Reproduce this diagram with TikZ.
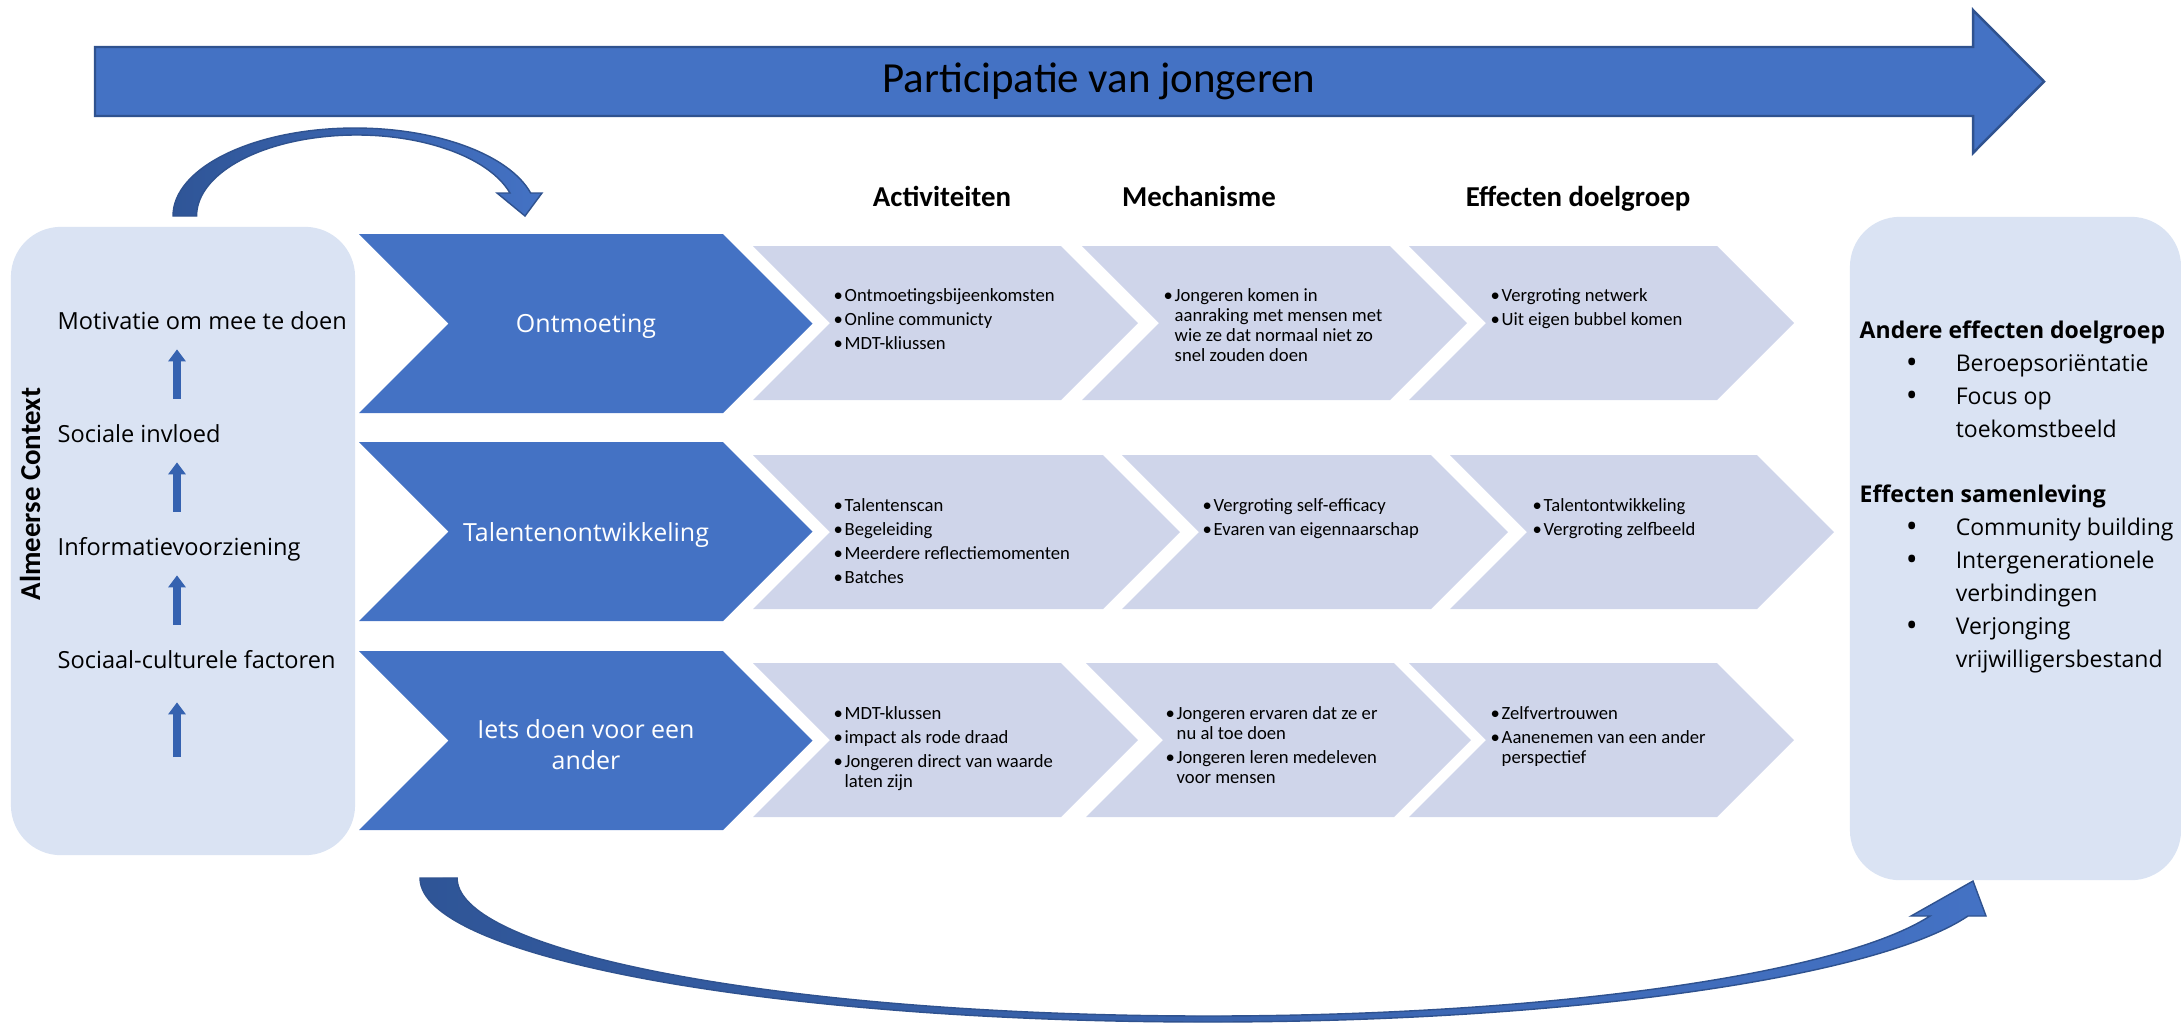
\documentclass[tikz,border=0pt]{standalone}
\usepackage{fontspec}
\setmainfont{Carlito}
\newfontfamily\osans{Open Sans}
\usetikzlibrary{arrows.meta}

\definecolor{accent}{HTML}{4472C4}
\definecolor{accentdk}{HTML}{2F528F}
\definecolor{arrowdk}{HTML}{2F5597}
\definecolor{upblue}{HTML}{3562B0}
\definecolor{chevlight}{HTML}{CFD5EA}
\definecolor{boxlight}{HTML}{DAE3F3}

\newcommand{\bitem}{\makebox[0.11cm][l]{\textbullet}}
\newcommand{\bcont}{\hspace*{0.11cm}}
\newcommand{\ritem}{\hspace*{0.46cm}\makebox[0.50cm][l]{\raisebox{-0.7pt}{\fontsize{9pt}{9pt}\selectfont\textbullet}}}
\newcommand{\rcont}{\hspace*{0.96cm}}

\tikzset{
  titlearrow/.style={fill=accent, draw=accentdk, line width=0.7pt},
  titletext/.style={font=\fontsize{12.2pt}{14pt}\selectfont, inner sep=0},
  ctxbox/.style={fill=boxlight, rounded corners=0.5cm, inner sep=0},
  bendarrow/.style={left color=arrowdk, right color=accent, draw=accentdk, line width=0.4pt},
  bigchev/.style={fill=accent},
  smallchev/.style={fill=chevlight},
  steptext/.style={font=\osans\fontsize{7.1pt}{8.8pt}\selectfont, text=white, align=center, inner sep=0},
  colhead/.style={font=\bfseries\fontsize{8.2pt}{10pt}\selectfont, inner sep=0},
  dtext/.style={font=\fontsize{5.3pt}{5.7pt}\selectfont, align=left, anchor=north west, inner sep=0},
  ctxtext/.style={font=\osans\fontsize{6.7pt}{8pt}\selectfont, anchor=base west, inner sep=0, text height=5.1pt, text depth=1.6pt},
  ctxlabel/.style={font=\bfseries\fontsize{8.2pt}{10pt}\selectfont, rotate=90, inner sep=0},
  rtext/.style={font=\osans\fontsize{6.55pt}{9.39pt}\selectfont, align=left, anchor=north west, inner sep=0},
  uparrow/.style={draw=upblue, line width=0.07cm, -{Triangle[width=0.17cm,length=0.12cm]}, shorten <=0.247cm, shorten >=0.14cm}
}

\begin{document}
\begin{tikzpicture}[x=0.01cm, y=-0.01cm]
    \useasboundingbox (0,0) rectangle (2181,1026);

    \draw[titlearrow] (95,47) -- (1973,47) -- (1973,10) -- (2044,81.5) -- (1973,153) -- (1973,116) -- (95,116) -- cycle;
    \node[titletext, anchor=base] (title) at (1099,92) {Participatie van jongeren};

    \node[ctxbox, minimum width=3.44cm, minimum height=6.28cm] (ctx) at (183,541) {};
    \node[ctxbox, minimum width=3.31cm, minimum height=6.63cm] (rbox) at (2015.5,548.5) {};

    \shadedraw[bendarrow] (173,216) arc[start angle=180, end angle=344.85, x radius=182, y radius=88]
        -- (542,193) -- (525,216) -- (497,193) -- (510,193)
        arc[start angle=343.5, end angle=180, x radius=160, y radius=81] -- cycle;
    \shadedraw[bendarrow] (420,878) arc[start angle=180, end angle=15.3, x radius=788, y radius=144]
        -- (1986,916) -- (1973,881) -- (1911,916) -- (1930,916)
        arc[start angle=16, end angle=180, x radius=751, y radius=138] -- cycle;

    \fill[bigchev] (359,234) -- ++(364,0) -- ++(89.5,89.5) -- ++(-89.5,89.5) -- ++(-364,0) -- ++(89.5,-89.5) -- cycle;
    \fill[bigchev] (359,442) -- ++(364,0) -- ++(89.5,89.5) -- ++(-89.5,89.5) -- ++(-364,0) -- ++(89.5,-89.5) -- cycle;
    \fill[bigchev] (359,651) -- ++(364,0) -- ++(89.5,89.5) -- ++(-89.5,89.5) -- ++(-364,0) -- ++(89.5,-89.5) -- cycle;

    \fill[smallchev] (753,246) -- ++(308,0) -- ++(77,77) -- ++(-77,77) -- ++(-308,0) -- ++(77,-77) -- cycle;
    \fill[smallchev] (1082,246) -- ++(308,0) -- ++(77,77) -- ++(-77,77) -- ++(-308,0) -- ++(77,-77) -- cycle;
    \fill[smallchev] (1409,246) -- ++(308,0) -- ++(77,77) -- ++(-77,77) -- ++(-308,0) -- ++(77,-77) -- cycle;
    \fill[smallchev] (753,455) -- ++(350,0) -- ++(77,77) -- ++(-77,77) -- ++(-350,0) -- ++(77,-77) -- cycle;
    \fill[smallchev] (1122,455) -- ++(309,0) -- ++(77,77) -- ++(-77,77) -- ++(-309,0) -- ++(77,-77) -- cycle;
    \fill[smallchev] (1450,455) -- ++(307,0) -- ++(77,77) -- ++(-77,77) -- ++(-307,0) -- ++(77,-77) -- cycle;
    \fill[smallchev] (753,663) -- ++(308,0) -- ++(77,77) -- ++(-77,77) -- ++(-308,0) -- ++(77,-77) -- cycle;
    \fill[smallchev] (1086,663) -- ++(308,0) -- ++(77,77) -- ++(-77,77) -- ++(-308,0) -- ++(77,-77) -- cycle;
    \fill[smallchev] (1409,663) -- ++(308,0) -- ++(77,77) -- ++(-77,77) -- ++(-308,0) -- ++(77,-77) -- cycle;

    \node[steptext] (ont) at (586,326) {Ontmoeting};
    \node[steptext] (tal) at (586,535) {Talentenontwikkeling};
    \node[steptext] (iets) at (586,745) {Iets doen voor een\\ander};

    \node[colhead, anchor=base] (act) at (942,206) {Activiteiten};
    \node[colhead, anchor=base] (mech) at (1199,206) {Mechanisme};
    \node[colhead, anchor=base] (eff) at (1578,206) {Effecten doelgroep};

    \node[dtext] (ont-act) at (833,288) {\bitem Ontmoetingsbijeenkomsten\\[1.1pt]\bitem Online communicty\\[1.1pt]\bitem MDT-kliussen};
    \node[dtext] (ont-mech) at (1163,288) {\bitem Jongeren komen in\\\bcont aanraking met mensen met\\\bcont wie ze dat normaal niet zo\\\bcont snel zouden doen};
    \node[dtext] (ont-eff) at (1490,288) {\bitem Vergroting netwerk\\[1.1pt]\bitem Uit eigen bubbel komen};

    \node[dtext] (tal-act) at (833,498) {\bitem Talentenscan\\[1.1pt]\bitem Begeleiding\\[1.1pt]\bitem Meerdere reflectiemomenten\\[1.1pt]\bitem Batches};
    \node[dtext] (tal-mech) at (1202,498) {\bitem Vergroting self-efficacy\\[1.1pt]\bitem Evaren van eigennaarschap};
    \node[dtext] (tal-eff) at (1532,498) {\bitem Talentontwikkeling\\[1.1pt]\bitem Vergroting zelfbeeld};

    \node[dtext] (iets-act) at (833,706) {\bitem MDT-klussen\\[1.1pt]\bitem impact als rode draad\\[1.1pt]\bitem Jongeren direct van waarde\\\bcont laten zijn};
    \node[dtext] (iets-mech) at (1165,706) {\bitem Jongeren ervaren dat ze er\\\bcont nu al toe doen\\[1.1pt]\bitem Jongeren leren medeleven\\\bcont voor mensen};
    \node[dtext] (iets-eff) at (1490,706) {\bitem Zelfvertrouwen\\[1.1pt]\bitem Aanenemen van een ander\\\bcont perspectief};

    \node[ctxlabel] (alm) at (30,494) {Almeerse Context};
    \node[ctxtext] (mot) at (57,329) {Motivatie om mee te doen};
    \node[ctxtext] (soc) at (57,442) {Sociale invloed};
    \node[ctxtext] (inf) at (57,555) {Informatievoorziening};
    \node[ctxtext] (scf) at (57,668) {Sociaal-culturele factoren};

    \coordinate (ax) at (177,0);
    \coordinate (foot) at (177,757);
    \draw[uparrow] (soc.north -| ax) -- (mot.south -| ax);
    \draw[uparrow] (inf.north -| ax) -- (soc.south -| ax);
    \draw[uparrow] (scf.north -| ax) -- (inf.south -| ax);
    \draw[uparrow, shorten <=0pt, shorten >=0.28cm] (foot) -- (scf.south -| ax);

    \node[rtext] (reff) at (1859,320) {\textbf{Andere effecten doelgroep}\\
        \ritem Beroepsoriëntatie\\
        \ritem Focus op\\
        \rcont toekomstbeeld\\[9.1pt]
        \textbf{Effecten samenleving}\\
        \ritem Community building\\
        \ritem Intergenerationele\\
        \rcont verbindingen\\
        \ritem Verjonging\\
        \rcont vrijwilligersbestand};
\end{tikzpicture}
\end{document}
